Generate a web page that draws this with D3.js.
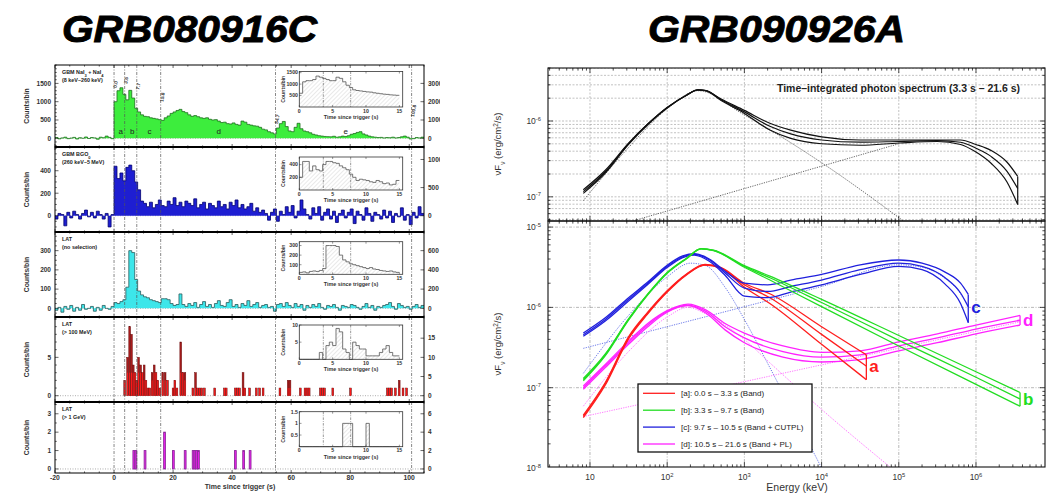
<!DOCTYPE html>
<html><head><meta charset="utf-8">
<script src="https://d3js.org/d3.v7.min.js"></script>
<style>
body{margin:0;background:#fff}
svg{display:block}
text{font-family:"Liberation Sans",Arial,Helvetica,sans-serif}
</style></head>
<body><svg id="c" width="1053" height="495"></svg>
<script>
// ================= DATA =================
const titles = ["GRB080916C", "GRB090926A"];

// ---- GRB080916C light curves (1 s bins starting at -20 s) ----
const lcStart = -20, lcBin = 1;
const naiCounts = [20,-15,10,30,-10,5,25,-20,15,0,35,-5,20,10,-25,30,15,60,25,-10,
 1000,1300,1380,1200,1050,1310,1100,820,720,640,
 600,590,560,545,530,510,490,560,610,680,
 720,760,790,730,700,640,600,620,590,560,
 545,560,520,500,510,470,430,440,400,390,
 420,380,360,470,440,380,360,340,330,300,
 250,230,180,150,120,280,400,460,320,200,
 180,300,410,260,200,180,150,110,90,70,
 60,50,45,40,55,30,40,60,50,70,
 110,130,160,180,120,90,60,40,30,20,
 25,10,20,15,30,10,20,40,60,30,
 -20,-10,20,10,30];
const bgoCounts = [-30,20,10,-90,30,-20,40,10,-30,20,50,-10,30,-20,40,10,-30,20,-100,10,
 440,330,380,310,430,450,400,300,230,130,
 110,80,120,70,100,140,90,80,130,100,
 160,90,120,80,130,110,90,150,70,100,
 120,60,110,90,70,130,80,100,60,120,
 90,140,70,100,60,80,110,40,70,30,
 50,20,-40,30,60,-50,40,10,80,30,
 90,-20,40,140,60,10,-30,70,20,80,
 -40,30,60,-30,40,-60,20,50,-20,30,
 60,-70,40,10,-40,70,20,-50,30,10,
 -30,50,-20,40,-60,20,-10,70,-40,10,
 -80,30,-20,80,20];
const latCounts = [-10,5,-20,10,-5,15,-15,5,-10,20,-5,0,10,-15,5,-10,15,0,-5,10,
 30,25,35,45,110,300,290,150,90,70,
 60,55,45,40,35,30,50,50,45,25,
 15,20,75,20,10,25,15,30,5,20,
 35,10,20,5,25,40,15,10,30,45,
 10,20,5,25,15,40,10,20,30,5,
 15,20,5,10,-15,20,25,10,30,15,
 5,25,10,20,-10,15,5,20,10,25,
 5,-5,15,10,20,5,-10,15,10,5,
 20,15,5,-5,10,25,5,15,-10,10,
 5,15,20,30,10,-5,25,15,5,10,
 -5,10,20,5,15];
// LAT > 100 MeV events (bin start time, counts, counts in the red part)
const latHiTime  = [3.3,4.3,5.0,5.6,6.2,6.8,7.4,8.0,8.7,9.3,9.9,10.5,11.2,11.8,12.6,13.3,13.9,14.5,15.2,16.2,17.0,17.8,19.7,20.3,21.0,22.3,23.0,23.7,26.4,27.3,28.0,28.7,29.4,30.3,33.8,37.1,37.7,40.8,41.5,42.2,43.4,44.0,45.6,47.9,49.0,50.2,55.9,58.7,59.3,62.8,64.4,65.1,65.8,69.6,70.3,71.0,73.8,79.8,92.3,93.0,93.7,95.0,96.3,97.6,98.8];
const latHiCount = [2,5,9,8,4,3,2,5,4,3,4,2,1,1,3,4,3,2,1,3,3,2,1,2,1,7,3,3,1,3,1,1,1,1,1,1,1,1,1,1,3,1,1,1,1,1,1,2,2,1,1,1,1,1,1,1,1,1,1,1,1,1,2,1,1];
const latHiRed   = [2,3,3,3,3,3,2,3,3,3,2,2,1,1,2,3,3,2,1,2,2,2,1,2,1,3,3,2,1,1,1,1,1,1,1,1,1,1,1,1,1,1,1,1,1,1,1,1,1,1,1,1,1,1,1,1,1,1,1,1,1,1,1,1,1];
// LAT > 1 GeV events
const latGeVTime  = [6.4,7.1,10.2,16.8,19.8,23.8,26.5,27.1,27.7,28.3,40.8,43.6,45.8];
const latGeVCount = [1,1,1,2,1,1,1,1,1,1,1,1,1];
// time intervals
const intervalEdges  = [0, 3.6, 7.7, 15.8, 54.7, 100.8];
const intervalLabels = ["0.0","3.6","7.7","15.8","54.7","100.8"];
const intervalNames  = ["a","b","c","d","e"];
const intervalNameT  = [2.3, 6.2, 12, 35.5, 78.5];
// insets: 0.5 s bins from 0 to 15 s
const insetBin = 0.5;
const naiInset = [600,1100,1150,1150,1200,1350,1300,1250,1200,1150,1150,1300,1250,1100,950,850,750,720,700,680,660,650,620,600,580,560,550,530,520,510];
const bgoInset = [200,450,450,300,380,320,300,400,450,450,430,420,380,350,320,250,200,150,170,160,150,130,120,150,130,100,110,80,90,150];
const latInset = [20,25,15,30,35,30,40,60,300,300,300,290,200,150,130,110,100,90,80,70,60,70,55,50,40,35,30,35,25,20];
const latHiInset = [0,0,0,0,0,0,2,0,4,5,4,9,8,3,2,0,5,4,3,3,1,1,1,1,2,3,4,2,1,1];
const gevInset = [0,0,0,0,0,0,0,0,0,0,0,0,0,1,1,1,0,0,0,0,1,0,0,0,0,0,0,0,0,0];
const mainXTicks = [-20,0,20,40,60,80,100];
const insetXTicks = [0,5,10,15];

// ---- GRB090926A spectra (energy keV, nuFnu erg/cm2/s) ----
const energyTicks = [10,1e2,1e3,1e4,1e5,1e6];
// time-integrated (top panel)
const tiE   = [8.2,15.8,31.6,56,100,178,251,316,500,1000,2138,3981,1e4,31600,1e5,316000,631000,1e6,1.58e6,2.51e6,3.47e6];
const tiMid = [1.17e-7,2.14e-7,5.01e-7,9.12e-7,1.51e-6,2.19e-6,2.57e-6,2.51e-6,1.91e-6,1.32e-6,8.51e-7,6.76e-7,5.62e-7,5.25e-7,5.37e-7,5.50e-7,5.25e-7,4.37e-7,3.39e-7,2.19e-7,1.29e-7];
const tiUp  = [1.24e-7,2.24e-7,5.10e-7,9.12e-7,1.51e-6,2.19e-6,2.57e-6,2.51e-6,1.95e-6,1.38e-6,9.33e-7,7.59e-7,6.17e-7,5.62e-7,5.62e-7,5.62e-7,5.62e-7,4.90e-7,4.07e-7,2.88e-7,1.86e-7];
const tiLo  = [1.11e-7,2.06e-7,4.92e-7,8.91e-7,1.48e-6,2.19e-6,2.57e-6,2.51e-6,1.86e-6,1.26e-6,7.59e-7,5.89e-7,5.01e-7,4.79e-7,5.13e-7,5.37e-7,4.90e-7,3.89e-7,2.75e-7,1.58e-7,7.94e-8];
const tiBandE = [8.2,31.6,100,251,1000,1e4,1.15e5];
const tiBandF = [8.91e-8,4.47e-7,1.45e-6,2.51e-6,1.20e-6,2.82e-7,4.79e-8];
const tiPLE = [35.5,1e5];
const tiPLF = [4.79e-8,5.01e-7];
// [a] Band
const aE   = [8.2,15.8,31.6,56,100,178,309,501,1000,2138,1e4,38000];
const aMid = [4.40e-8,1.12e-7,4.17e-7,8.51e-7,1.58e-6,2.57e-6,3.39e-6,3.09e-6,1.91e-6,1.32e-6,4.61e-7,1.86e-7];
const aUp  = [4.55e-8,1.16e-7,4.30e-7,8.70e-7,1.61e-6,2.60e-6,3.42e-6,3.12e-6,2.00e-6,1.48e-6,5.75e-7,2.57e-7];
const aLo  = [4.25e-8,1.08e-7,4.05e-7,8.30e-7,1.55e-6,2.54e-6,3.36e-6,3.06e-6,1.78e-6,1.12e-6,3.47e-7,1.26e-7];
// [b] Band
const bE   = [8.2,15.8,31.6,56,100,178,275,398,1000,2138,1e4,1e5,1e6,3.72e6];
const bMid = [1.26e-7,2.57e-7,7.08e-7,1.45e-6,2.69e-6,4.07e-6,5.37e-6,5.13e-6,3.24e-6,2.34e-6,1.15e-6,3.89e-7,1.35e-7,7.24e-8];
const bUp  = [1.30e-7,2.63e-7,7.20e-7,1.47e-6,2.72e-6,4.10e-6,5.40e-6,5.16e-6,3.31e-6,2.45e-6,1.26e-6,4.47e-7,1.58e-7,8.71e-8];
const bLo  = [1.22e-7,2.51e-7,6.96e-7,1.43e-6,2.66e-6,4.04e-6,5.34e-6,5.10e-6,3.16e-6,2.19e-6,1.02e-6,3.31e-7,1.10e-7,5.89e-8];
// [c] Band + CUTPL
const cE   = [8.2,15.8,31.6,56,100,159,224,355,562,1000,2000,3981,1e4,31600,1e5,2e5,398000,631000,794000];
const cMid = [4.57e-7,7.08e-7,1.26e-6,2.00e-6,3.24e-6,4.27e-6,4.57e-6,3.89e-6,2.69e-6,1.74e-6,1.58e-6,1.82e-6,2.19e-6,2.95e-6,3.55e-6,3.24e-6,2.34e-6,1.51e-6,1.02e-6];
const cUp  = [4.79e-7,7.41e-7,1.32e-6,2.07e-6,3.35e-6,4.37e-6,4.68e-6,3.98e-6,2.82e-6,2.00e-6,1.91e-6,2.19e-6,2.57e-6,3.39e-6,3.89e-6,3.55e-6,2.75e-6,2.00e-6,1.45e-6];
const cLo  = [4.37e-7,6.76e-7,1.20e-6,1.93e-6,3.13e-6,4.17e-6,4.47e-6,3.72e-6,2.51e-6,1.38e-6,1.32e-6,1.55e-6,1.91e-6,2.57e-6,3.24e-6,2.95e-6,1.95e-6,1.12e-6,6.46e-7];
const cBandE = [8.2,31.6,100,200,316,562,1000,2138,1e4];
const cBandF = [1.51e-7,7.94e-7,2.40e-6,3.55e-6,3.31e-6,1.78e-6,7.08e-7,1.78e-7,1.0e-8];
const cCutE = [8.2,100,1000,1e4,1e5,2e5,398000,631000,794000];
const cCutF = [3.09e-7,5.75e-7,1.02e-6,1.82e-6,3.39e-6,3.16e-6,2.29e-6,1.48e-6,1.0e-6];
// [d] Band + PL
const dE   = [8.2,15.8,31.6,56,100,186,316,562,1000,3162,1e4,31600,1e5,316000,1e6,3.72e6];
const dMid = [1.00e-7,1.86e-7,3.63e-7,6.03e-7,8.91e-7,1.07e-6,8.91e-7,5.75e-7,4.17e-7,2.82e-7,2.40e-7,2.57e-7,3.31e-7,4.17e-7,5.37e-7,6.92e-7];
const dUp  = [1.05e-7,1.95e-7,3.80e-7,6.31e-7,9.12e-7,1.10e-6,9.33e-7,6.31e-7,4.79e-7,3.31e-7,2.75e-7,2.88e-7,3.72e-7,4.68e-7,6.03e-7,7.94e-7];
const dLo  = [9.55e-8,1.78e-7,3.47e-7,5.75e-7,8.71e-7,1.05e-6,8.51e-7,5.25e-7,3.63e-7,2.40e-7,2.09e-7,2.24e-7,2.88e-7,3.63e-7,4.68e-7,6.03e-7];
const dBandE = [8.2,31.6,100,186,316,1000,2138,1e4,80000];
const dBandF = [5.89e-8,2.82e-7,7.59e-7,1.00e-6,8.32e-7,3.98e-7,2.04e-7,5.37e-8,1.0e-8];
const dPLE = [8.2,3.72e6];
const dPLF = [4.37e-8,6.61e-7];
const legendLabels = ["[a]: 0.0 s \u2013 3.3 s (Band)","[b]: 3.3 s \u2013 9.7 s (Band)","[c]: 9.7 s \u2013 10.5 s (Band + CUTPL)","[d]: 10.5 s \u2013 21.6 s (Band + PL)"];
const curveLetters = ["a","b","c","d"];

// ================= DRAW =================
const svg = d3.select("#c");
const defs = svg.append("defs");
const pat = defs.append("pattern").attr("id","hatch").attr("patternUnits","userSpaceOnUse")
  .attr("width",3).attr("height",3).attr("patternTransform","rotate(45)");
pat.append("line").attr("x1",0).attr("y1",0).attr("x2",0).attr("y2",3).attr("stroke","#c8c8c8").attr("stroke-width",0.8);

// titles
[[62,255],[648,257]].forEach((p,i)=>{
  svg.append("text").attr("x",p[0]).attr("y",42).text(titles[i])
    .attr("font-family","'DejaVu Sans',Verdana,sans-serif").attr("font-weight","bold")
    .attr("font-style","italic").attr("font-size",36)
    .attr("stroke","#000").attr("stroke-width",0.9)
    .attr("textLength",p[1]).attr("lengthAdjust","spacingAndGlyphs");
});

// ---------- LEFT FIGURE ----------
const L = svg.append("g");
const tX = d3.scaleLinear().domain([-20,105]).range([55,424]);
const panels = [
  {top:65,bot:147,dom:[-238,2003],lt:[0,500,1000,1500],rt:[0,1000,2000,3000],minor:100,
   lab:[["GBM NaI",["3"]," + NaI",["4"]],["(8 keV\u2013260 keV)"]],
   ins:{top:71.5,bot:107,dom:[0,1550],ticks:[500,1000,1500],data:naiInset}},
  {top:147,bot:232,dom:[-145,611],lt:[0,200,400],rt:[0,500,1000],minor:50,
   lab:[["GBM BGO",["0"]],["(260 keV\u20135 MeV)"]],
   ins:{top:157,bot:190,dom:[0,520],ticks:[200,400],data:bgoInset}},
  {top:232,bot:317,dom:[-45,397],lt:[0,100,200,300],rt:[0,200,400,600],minor:25,
   lab:[["LAT"],["(no selection)"]],
   ins:{top:241.7,bot:274.3,dom:[0,340],ticks:[100,200,300],data:latInset}},
  {top:317,bot:402,dom:[-0.82,10.26],lt:[0,5],rt:[0,5,10,15],minor:1,
   lab:[["LAT"],["(> 100 MeV)"]],
   ins:{top:325,bot:359.3,dom:[0,10],ticks:[5,10],data:latHiInset}},
  {top:402,bot:473,dom:[-0.22,3.64],lt:[0,1,2,3],rt:[0,2,4,6],minor:0.5,
   lab:[["LAT"],["(> 1 GeV)"]],
   ins:{top:411.7,bot:446.7,dom:[0,1.5],ticks:[0.5,1,1.5],data:gevInset}}
];
const lcT = naiCounts.map((v,i)=>lcStart+i*lcBin);
const lcData = [naiCounts,bgoCounts,latCounts];
const lcFill = ["#3ded3d","#1e1ed2","#3de6ea"];
const lcStroke = ["#1d6e1d","#00006e","#2a5c5c"];
const lclip = defs.append("clipPath").attr("id","lclip");
lclip.append("rect").attr("x",0).attr("y",0).attr("width",440).attr("height",495);

panels.forEach((p,pi)=>{
  const y = d3.scaleLinear().domain(p.dom).range([p.bot,p.top]);
  const g = L.append("g");
  const cid = "pc"+pi;
  defs.append("clipPath").attr("id",cid).append("rect").attr("x",55).attr("y",p.top).attr("width",369).attr("height",p.bot-p.top);
  const gc = g.append("g").attr("clip-path",`url(#${cid})`);
  // zero line
  gc.append("line").attr("x1",55).attr("x2",424).attr("y1",y(0)).attr("y2",y(0))
    .attr("stroke","#777").attr("stroke-width",0.6).attr("stroke-dasharray","1,1.5");
  if(pi<3){
    const vals = lcData[pi];
    const pts = vals.map((v,i)=>({t:lcT[i],v}));
    pts.push({t:lcT[lcT.length-1]+lcBin,v:vals[vals.length-1]});
    const area = d3.area().x(d=>tX(d.t)).y0(y(0)).y1(d=>y(d.v)).curve(d3.curveStepAfter);
    const line = d3.line().x(d=>tX(d.t)).y(d=>y(d.v)).curve(d3.curveStepAfter);
    gc.append("path").attr("d",area(pts)).attr("fill",lcFill[pi]);
    gc.append("path").attr("d",line(pts)).attr("fill","none").attr("stroke",lcStroke[pi]).attr("stroke-width",0.8);
  } else if(pi===3){
    const bw = 0.6;
    latHiTime.forEach((t,i)=>{
      gc.append("rect").attr("x",tX(t)).attr("width",tX(t+bw)-tX(t))
        .attr("y",y(latHiCount[i])).attr("height",y(0)-y(latHiCount[i]))
        .attr("fill","#a81c1c").attr("stroke","#6a0c0c").attr("stroke-width",0.5);
      gc.append("rect").attr("x",tX(t)+0.4).attr("width",Math.max(0.5,tX(t+bw)-tX(t)-0.8))
        .attr("y",y(latHiRed[i])).attr("height",y(0)-y(latHiRed[i]))
        .attr("fill","#ff1a1a");
    });
  } else {
    const bw = 0.6;
    latGeVTime.forEach((t,i)=>{
      gc.append("rect").attr("x",tX(t)).attr("width",tX(t+bw)-tX(t))
        .attr("y",y(latGeVCount[i])).attr("height",y(0)-y(latGeVCount[i]))
        .attr("fill","#f020f0").attr("stroke","#8a2a9a").attr("stroke-width",0.9);
    });
  }
  // interval lines
  intervalEdges.forEach(t=>{
    g.append("line").attr("x1",tX(t)).attr("x2",tX(t)).attr("y1",p.top).attr("y2",p.bot)
     .attr("stroke","#555").attr("stroke-width",0.7).attr("stroke-dasharray","3,1.5,1,1.5");
  });
  // ticks x
  d3.range(-20,106,5).forEach(t=>{
    const len = t%20===0?3:1.6;
    g.append("line").attr("x1",tX(t)).attr("x2",tX(t)).attr("y1",p.top).attr("y2",p.top+len).attr("stroke","#000").attr("stroke-width",0.6);
    g.append("line").attr("x1",tX(t)).attr("x2",tX(t)).attr("y1",p.bot).attr("y2",p.bot-len).attr("stroke","#000").attr("stroke-width",0.6);
  });
  // y ticks
  d3.range(Math.ceil(p.dom[0]/p.minor)*p.minor, p.dom[1], p.minor).forEach(v=>{
    const major = p.lt.some(m=>Math.abs(m-v)<1e-9);
    const len = major?3.5:1.8;
    g.append("line").attr("x1",55).attr("x2",55+len).attr("y1",y(v)).attr("y2",y(v)).attr("stroke","#000").attr("stroke-width",0.6);
  });
  p.rt.forEach(v=>{
    const yy = y(v/2);
    g.append("line").attr("x1",424).attr("x2",420.5).attr("y1",yy).attr("y2",yy).attr("stroke","#000").attr("stroke-width",0.6);
    L.append("text").attr("x",428).attr("y",yy+2.3).text(v).attr("font-size",6.5).attr("font-weight","bold").attr("fill","#333").attr("clip-path","url(#lclip)");
  });
  p.lt.forEach(v=>{
    g.append("text").attr("x",51).attr("y",y(v)+2.3).attr("text-anchor","end").text(v)
      .attr("font-size",6.5).attr("font-weight","bold").attr("fill","#333");
  });
  // y title
  g.append("text").attr("transform",`translate(29,${(p.top+p.bot)/2}) rotate(-90)`)
    .attr("text-anchor","middle").text("Counts/bin").attr("font-size",6.8).attr("font-weight","bold").attr("fill","#333");
  // panel label
  p.lab.forEach((ln,li)=>{
    const tx = g.append("text").attr("x",62).attr("y",p.top+9+li*7.5).attr("font-size",5.4).attr("font-weight","bold").attr("fill","#222");
    ln.forEach(s=>{
      if(Array.isArray(s)) tx.append("tspan").attr("baseline-shift","sub").attr("font-size",4).text(s[0]);
      else tx.append("tspan").text(s);
    });
  });
  // frame
  g.append("rect").attr("x",55).attr("y",p.top).attr("width",369).attr("height",p.bot-p.top)
   .attr("fill","none").attr("stroke","#000").attr("stroke-width",1);
  // inset
  const I = p.ins;
  const ix = d3.scaleLinear().domain([0,15.5]).range([299.3,402.7]);
  const iy = d3.scaleLinear().domain(I.dom).range([I.bot,I.top]);
  const ig = g.append("g");
  ig.append("rect").attr("x",299.3).attr("y",I.top).attr("width",103.4).attr("height",I.bot-I.top).attr("fill","#fff");
  const ipts = I.data.map((v,i)=>({t:i*insetBin,v}));
  ipts.push({t:I.data.length*insetBin,v:I.data[I.data.length-1]});
  ig.append("path").attr("d",d3.area().x(d=>ix(d.t)).y0(iy(0)).y1(d=>iy(d.v)).curve(d3.curveStepAfter)(ipts)).attr("fill","url(#hatch)");
  ig.append("path").attr("d",d3.line().x(d=>ix(d.t)).y(d=>iy(d.v)).curve(d3.curveStepAfter)(ipts))
    .attr("fill","none").attr("stroke","#555").attr("stroke-width",0.8);
  [3.6,7.7].forEach(t=>ig.append("line").attr("x1",ix(t)).attr("x2",ix(t)).attr("y1",I.top).attr("y2",I.bot)
    .attr("stroke","#555").attr("stroke-width",0.6).attr("stroke-dasharray","2.5,1.2,0.8,1.2"));
  ig.append("rect").attr("x",299.3).attr("y",I.top).attr("width",103.4).attr("height",I.bot-I.top).attr("fill","none").attr("stroke","#333").attr("stroke-width",0.8);
  insetXTicks.forEach(t=>{
    ig.append("line").attr("x1",ix(t)).attr("x2",ix(t)).attr("y1",I.bot).attr("y2",I.bot-2).attr("stroke","#333").attr("stroke-width",0.5);
    ig.append("line").attr("x1",ix(t)).attr("x2",ix(t)).attr("y1",I.top).attr("y2",I.top+2).attr("stroke","#333").attr("stroke-width",0.5);
    ig.append("text").attr("x",ix(t)).attr("y",I.bot+5.5).attr("text-anchor","middle").text(t).attr("font-size",5.2).attr("font-weight","bold").attr("fill","#333");
  });
  I.ticks.forEach(v=>{
    ig.append("line").attr("x1",299.3).attr("x2",301.5).attr("y1",iy(v)).attr("y2",iy(v)).attr("stroke","#333").attr("stroke-width",0.5);
    ig.append("text").attr("x",298).attr("y",iy(v)+1.8).attr("text-anchor","end").text(v).attr("font-size",5.2).attr("font-weight","bold").attr("fill","#333");
  });
  ig.append("text").attr("x",351).attr("y",I.bot+12).attr("text-anchor","middle").text("Time since trigger (s)").attr("font-size",5.4).attr("font-weight","bold").attr("fill","#333");
  ig.append("text").attr("transform",`translate(285,${(I.top+I.bot)/2}) rotate(-90)`).attr("text-anchor","middle").text("Counts/bin").attr("font-size",5.2).attr("font-weight","bold").attr("fill","#333");
});
// thick separators
panels.slice(1).forEach(p=>L.append("line").attr("x1",55).attr("x2",424).attr("y1",p.top).attr("y2",p.top).attr("stroke","#000").attr("stroke-width",2));
// interval labels on panel 1
const p1y = d3.scaleLinear().domain(panels[0].dom).range([panels[0].bot,panels[0].top]);
const labY = [88,84,90,102,124,117];
intervalLabels.forEach((s,i)=>{
  L.append("text").attr("transform",`translate(${tX(intervalEdges[i])+2.5},${labY[i]}) rotate(-80)`)
   .text(s).attr("font-size",4.8).attr("font-weight","bold").attr("fill","#333");
});
intervalNames.forEach((s,i)=>{
  L.append("text").attr("x",tX(intervalNameT[i])).attr("y",p1y(0)-4).attr("text-anchor","middle").text(s).attr("font-size",8).attr("fill","#222");
});
mainXTicks.forEach(t=>{
  L.append("text").attr("x",tX(t)).attr("y",480).attr("text-anchor","middle").text(t).attr("font-size",6.8).attr("font-weight","bold").attr("fill","#333");
});
L.append("text").attr("x",240).attr("y",489).attr("text-anchor","middle").text("Time since trigger (s)").attr("font-size",7).attr("font-weight","bold").attr("fill","#333");

// ---------- RIGHT FIGURE ----------
const R = svg.append("g");
const xE = d3.scaleLog().domain([2.86,7.83e6]).range([548,1045]);
const yTop = d3.scaleLog().domain([4.8e-8,5.0e-6]).range([221,68]);
const yBot = d3.scaleLog().domain([1.03e-8,1.19e-5]).range([467,221]);
const X0=548, X1=1045;
defs.append("clipPath").attr("id","rt").append("rect").attr("x",X0).attr("y",68).attr("width",X1-X0).attr("height",153);
defs.append("clipPath").attr("id","rb").append("rect").attr("x",X0).attr("y",221).attr("width",X1-X0).attr("height",246);

function minorVals(lo,hi){
  const out=[];
  for(let e=Math.floor(Math.log10(lo));e<=Math.ceil(Math.log10(hi));e++){
    for(let m=1;m<10;m++){const v=m*Math.pow(10,e); if(v>=lo&&v<=hi) out.push(v);}
  }
  return out;
}
const xMinor = minorVals(2.86,7.83e6);
function isDecade(v){const l=Math.log10(v);return Math.abs(l-Math.round(l))<1e-6;}

// grids
const gt = R.append("g").attr("clip-path","url(#rt)");
minorVals(4.8e-8,5e-6).forEach(v=>{
  gt.append("line").attr("x1",X0).attr("x2",X1).attr("y1",yTop(v)).attr("y2",yTop(v))
   .attr("stroke","#999").attr("stroke-width",0.6).attr("stroke-dasharray","2,1.5");
});
energyTicks.forEach(e=>{
  gt.append("line").attr("x1",xE(e)).attr("x2",xE(e)).attr("y1",68).attr("y2",221).attr("stroke","#999").attr("stroke-width",0.6).attr("stroke-dasharray","2,1.5");
});
const gb = R.append("g").attr("clip-path","url(#rb)");
[1e-5,1e-6,1e-7].forEach(v=>{
  gb.append("line").attr("x1",X0).attr("x2",X1).attr("y1",yBot(v)).attr("y2",yBot(v)).attr("stroke","#999").attr("stroke-width",0.7).attr("stroke-dasharray","3,1.5,1,1.5");
});
energyTicks.forEach(e=>{
  gb.append("line").attr("x1",xE(e)).attr("x2",xE(e)).attr("y1",221).attr("y2",467).attr("stroke","#999").attr("stroke-width",0.7).attr("stroke-dasharray","3,1.5,1,1.5");
});

function curve(g,xs,ys,E,F,color,w,dash,op){
  const line = d3.line().x((d,i)=>xs(E[i])).y(d=>ys(d)).curve(d3.curveMonotoneX);
  g.append("path").attr("d",line(F)).attr("fill","none").attr("stroke",color).attr("stroke-width",w)
   .attr("stroke-dasharray",dash||null).attr("opacity",op||1);
}
function band(g,xs,ys,E,mid,up,lo,color,w){
  [up,mid,lo].forEach(F=>curve(g,xs,ys,E,F,color,w));
  const n=E.length-1;
  g.append("line").attr("x1",xs(E[n])).attr("x2",xs(E[n])).attr("y1",ys(up[n])).attr("y2",ys(lo[n])).attr("stroke",color).attr("stroke-width",w);
}
// top panel curves
curve(gt,xE,yTop,tiBandE,tiBandF,"#555",0.9,"1.2,1.2");
curve(gt,xE,yTop,tiPLE,tiPLF,"#555",0.9,"1.2,1.2");
band(gt,xE,yTop,tiE,tiMid,tiUp,tiLo,"#111",1.2);
// bottom panel curves
const col = {a:"#ff1e1e",b:"#22dd22",c:"#2020dd",d:"#ff22ff"};
curve(gb,xE,yBot,cBandE,cBandF,"#5a6ae6",0.9,"1.2,1.2");
curve(gb,xE,yBot,cCutE,cCutF,"#5a6ae6",0.9,"1.2,1.2");
curve(gb,xE,yBot,dBandE,dBandF,"#ff66ff",0.9,"1.2,1.2");
curve(gb,xE,yBot,dPLE,dPLF,"#ff66ff",0.9,"1.2,1.2");
band(gb,xE,yBot,dE,dMid,dUp,dLo,col.d,1.3);
band(gb,xE,yBot,aE,aMid,aUp,aLo,col.a,1.3);
band(gb,xE,yBot,cE,cMid,cUp,cLo,col.c,1.3);
band(gb,xE,yBot,bE,bMid,bUp,bLo,col.b,1.3);
// letters
const ends = [[aE,aMid,col.a],[bE,bMid,col.b],[cE,cMid,col.c],[dE,dMid,col.d]];
ends.forEach((e,i)=>{
  const n=e[0].length-1;
  R.append("text").attr("x",xE(e[0][n])+3).attr("y",yBot(e[1][n])+6).text(curveLetters[i])
   .attr("font-size",17).attr("font-weight","bold").attr("fill",e[2]);
});
// legend
const lg = R.append("g");
lg.append("rect").attr("x",638).attr("y",384).attr("width",174).attr("height",68).attr("fill","#fff").attr("stroke","#111").attr("stroke-width",1.3);
[col.a,col.b,col.c,col.d].forEach((c,i)=>{
  const yy = 393.3+i*16.9;
  lg.append("line").attr("x1",643).attr("x2",675).attr("y1",yy).attr("y2",yy).attr("stroke",c).attr("stroke-width",1.3);
  lg.append("text").attr("x",681).attr("y",yy+2.8).text(legendLabels[i]).attr("font-size",8).attr("fill","#222");
});
// frames & ticks
[[68,221,yTop],[221,467,yBot]].forEach(([t,b,ys])=>{
  const g = R.append("g");
  xMinor.forEach(v=>{
    const len = isDecade(v)?5:2.6;
    g.append("line").attr("x1",xE(v)).attr("x2",xE(v)).attr("y1",t).attr("y2",t+len).attr("stroke","#000").attr("stroke-width",0.7);
    g.append("line").attr("x1",xE(v)).attr("x2",xE(v)).attr("y1",b).attr("y2",b-len).attr("stroke","#000").attr("stroke-width",0.7);
  });
  const d = ys.domain();
  minorVals(d[0],d[1]).forEach(v=>{
    const len = isDecade(v)?5:2.6;
    g.append("line").attr("x1",X0).attr("x2",X0+len).attr("y1",ys(v)).attr("y2",ys(v)).attr("stroke","#000").attr("stroke-width",0.7);
    g.append("line").attr("x1",X1).attr("x2",X1-len).attr("y1",ys(v)).attr("y2",ys(v)).attr("stroke","#000").attr("stroke-width",0.7);
  });
  g.append("rect").attr("x",X0).attr("y",t).attr("width",X1-X0).attr("height",b-t).attr("fill","none").attr("stroke","#111").attr("stroke-width",1.1);
});
function powLabel(g,x,y,exp,anchor){
  const t = g.append("text").attr("x",x).attr("y",y).attr("text-anchor",anchor).attr("font-size",8.5).attr("fill","#333");
  t.append("tspan").text("10");
  if(exp!==null) t.append("tspan").attr("dy",-3.5).attr("font-size",5.8).text(exp);
  return t;
}
[[1e-6,"-6"],[1e-7,"-7"]].forEach(([v,e])=>powLabel(R,541,yTop(v)+3,e,"end"));
[[1e-5,"-5"],[1e-6,"-6"],[1e-7,"-7"],[1e-8,"-8"]].forEach(([v,e])=>powLabel(R,541,yBot(v)+3,e,"end"));
energyTicks.forEach(e=>{
  const ex = Math.round(Math.log10(e));
  powLabel(R,xE(e),480,ex===1?null:String(ex),"middle");
});
R.append("text").attr("x",797).attr("y",491).attr("text-anchor","middle").text("Energy (keV)").attr("font-size",10.5).attr("fill","#333");
[[144],[344]].forEach(([cy])=>{
  const t = R.append("text").attr("transform",`translate(501,${cy}) rotate(-90)`).attr("text-anchor","middle").attr("font-size",9.5).attr("fill","#333");
  t.append("tspan").text("\u03bdF");
  t.append("tspan").attr("baseline-shift","sub").attr("font-size",6.5).text("\u03bd");
  t.append("tspan").text("  (erg/cm");
  t.append("tspan").attr("baseline-shift","super").attr("font-size",6.5).text("2");
  t.append("tspan").text("/s)");
});
R.append("text").attr("x",777).attr("y",92).text("Time\u2013integrated photon spectrum (3.3 s \u2013 21.6 s)")
  .attr("font-size",11).attr("font-weight","bold").attr("fill","#222").attr("textLength",243).attr("lengthAdjust","spacingAndGlyphs");
</script></body></html>
